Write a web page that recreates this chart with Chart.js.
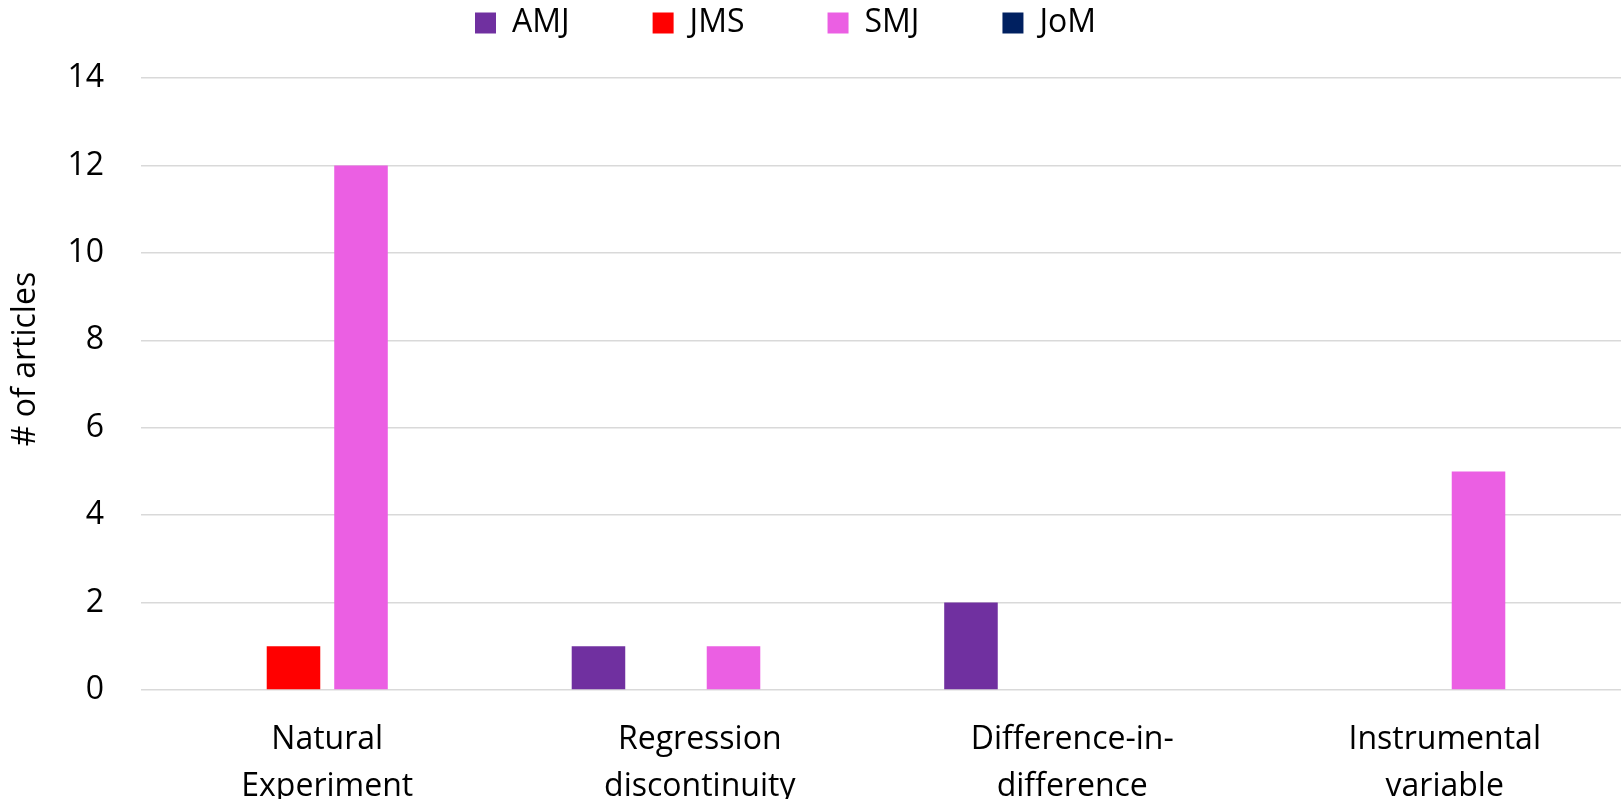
<!DOCTYPE html>
<html>
<head>
<meta charset="utf-8">
<script src="https://cdn.jsdelivr.net/npm/chart.js@4/dist/chart.umd.min.js"></script>
<style>
html,body{margin:0;padding:0;overflow:hidden;background:#fff;width:1621px;height:799px}
canvas{display:block}
</style>
</head>
<body>
<canvas id="c" width="1640" height="830" style="width:1640px;height:830px"></canvas>
<script>
// ---- data ----
const categories = [["Natural","Experiment"],["Regression","discontinuity"],["Difference-in-","difference"],["Instrumental","variable"]];
const seriesNames = ["AMJ","JMS","SMJ","JoM"];
const amjValues = [0, 1, 2, 0];
const jmsValues = [1, 0, 0, 0];
const smjValues = [12, 1, 0, 5];
const jomValues = [0, 0, 0, 0];
const yTickValues = [0, 2, 4, 6, 8, 10, 12, 14];
const yAxisTitle = "# of articles";

// ---- styles ----
const seriesColors = ["#7030A0", "#FF0000", "#EB5FE3", "#002060"];
const FONT = '"Open Sans", "DejaVu Sans", sans-serif';
const LEGEND_PAD = 83;

const seriesValues = [amjValues, jmsValues, smjValues, jomValues];
const datasets = seriesNames.map((name, i) => ({
  label: name,
  data: seriesValues[i],
  backgroundColor: seriesColors[i],
  borderWidth: 0,
  categoryPercentage: 0.725,
  barPercentage: 0.793
}));

const layoutFix = {
  id: 'layoutFix',
  beforeInit(chart) {
    const lg = chart.legend;
    if (lg) {
      const orig = lg.fit;
      lg.fit = function () { orig.call(this); this.height = 78; };
    }
  },
  afterUpdate(chart) {
    const lg = chart.legend;
    if (lg) {
      lg.left = 475 - LEGEND_PAD;
      lg.top = 7 - LEGEND_PAD;
      lg.adjustHitBoxes();
    }
  },
  afterDraw(chart) {
    const ctx = chart.ctx;
    ctx.save();
    ctx.font = '32px ' + FONT;
    ctx.fillStyle = '#000';
    ctx.translate(35, 359);
    ctx.rotate(-Math.PI / 2);
    ctx.textAlign = 'center';
    ctx.textBaseline = 'alphabetic';
    ctx.fillText(yAxisTitle, 0, 0);
    ctx.restore();
  }
};

new Chart(document.getElementById('c'), {
  type: 'bar',
  data: { labels: categories, datasets },
  plugins: [layoutFix],
  options: {
    responsive: false,
    devicePixelRatio: 1,
    animation: false,
    layout: { padding: { left: 0, right: 9, top: 0, bottom: 0 } },
    plugins: {
      tooltip: { enabled: false },
      legend: {
        display: true,
        position: 'top',
        align: 'start',
        labels: {
          boxWidth: 21,
          boxHeight: 21,
          padding: LEGEND_PAD,
          color: '#000',
          font: { family: FONT, size: 32, lineHeight: 1.2 }
        }
      }
    },
    scales: {
      x: {
        grid: { display: false, drawTicks: false },
        border: { display: false },
        ticks: {
          color: '#000',
          padding: 26,
          maxRotation: 0,
          autoSkip: false,
          font: { family: FONT, size: 32, lineHeight: 1.47 }
        },
        afterFit(s) { s.height = 140; }
      },
      y: {
        min: 0,
        max: 14,
        grid: { color: '#D9D9D9', lineWidth: 1.4, drawTicks: false },
        border: { display: false },
        ticks: {
          color: '#000',
          padding: 37,
          font: { family: FONT, size: 32 }
        },
        afterBuildTicks(s) { s.ticks = yTickValues.map(v => ({ value: v })); },
        afterFit(s) { s.width = 141; }
      }
    }
  }
});
</script>
</body>
</html>
